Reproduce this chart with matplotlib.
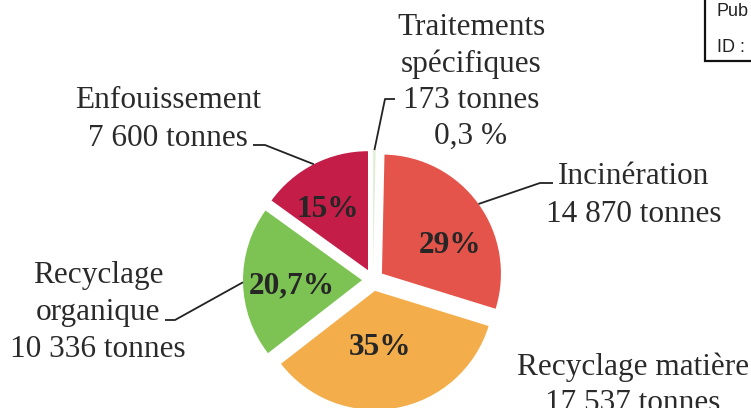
import numpy as np
import matplotlib
matplotlib.use("Agg")
import matplotlib.pyplot as plt
from matplotlib.patches import Rectangle

# data (tonnes per treatment)
categories = ["Traitements spécifiques", "Incinération", "Recyclage matière",
              "Recyclage organique", "Enfouissement"]
tonnes = [173, 14870, 17537, 10336, 7600]
tonnes_txt = ["173 tonnes", "14 870 tonnes", "17 537 tonnes",
              "10 336 tonnes", "7 600 tonnes"]
pct_txt = ["0,3 %", "29%", "35%", "20,7%", "15%"]
colors = ["#dfeed5", "#e4544a", "#f3ae4b", "#7dc354", "#c41e48"]

W, H = 751, 408
fig = plt.figure(figsize=(W / 100, H / 100), dpi=100)
ax = fig.add_axes([0, 0, 1, 1])

# axes in pixel units, y pointing down -> startangle -90 / counterclock = clockwise from top on screen
# (explode is in data units here, i.e. pixels)
wedges, _ = ax.pie(tonnes, colors=colors, explode=[11] * 5, startangle=-90,
                   counterclock=True, center=(373, 280), radius=119,
                   wedgeprops=dict(linewidth=0))
ax.set_aspect("equal")
ax.set_xlim(0, W)
ax.set_ylim(H, 0)
ax.axis("off")

serif = "Liberation Serif"
tcol = "#2a2a2a"


def edge_point(w):
    a = np.deg2rad((w.theta1 + w.theta2) / 2)
    return w.center[0] + w.r * np.cos(a), w.center[1] + w.r * np.sin(a)


# outside labels: (lines, center x, baselines)
labels = [
    (["Traitements", "spécifiques", tonnes_txt[0], pct_txt[0]], 471, [35, 72, 108, 144]),
    (["Incinération", tonnes_txt[1]], 634, [184, 222]),
    (["Recyclage matière", tonnes_txt[2]], 633, [375, 411]),
    (["Recyclage", "organique", tonnes_txt[3]], 98, [283, 320, 357]),
    (["Enfouissement", tonnes_txt[4]], 168, [108, 146]),
]
for lines, cx, bls in labels:
    for s, b in zip(lines, bls):
        ax.text(cx, b, s, ha="center", va="baseline", fontsize=22.5,
                family=serif, color=tcol)

# leader lines: (wedge index, elbow, end of short horizontal)
leaders = [
    (0, (385, 99), (395, 99)),
    (1, (540, 183), (553, 183)),
    (3, (175, 320), (165, 320)),
    (4, (265, 145), (253, 145)),
]
for i, elbow, end in leaders:
    px, py = edge_point(wedges[i])
    ax.plot([px, elbow[0], end[0]], [py, elbow[1], end[1]],
            color="#222222", lw=1.3, solid_capstyle="butt")

# percentages inside slices
inner = [(1, 450, 253), (2, 380, 355), (3, 292, 293), (4, 328, 217)]
for i, x, y in inner:
    ax.text(x, y, pct_txt[i], ha="center", va="baseline", fontsize=22.5,
            fontweight="bold", family=serif, color="#262626")

# stamp box in the top right corner
ax.add_patch(Rectangle((705, -10), 80, 71, fill=False, lw=1.6, ec="#111111"))
ax.text(717, 11, "Pub", fontsize=13, family="Liberation Sans", va="center", color="#222222")
ax.text(717, 48, "ID :", fontsize=13, family="Liberation Sans", va="center", color="#222222")

fig.savefig("out.png", dpi=100, facecolor="white")
